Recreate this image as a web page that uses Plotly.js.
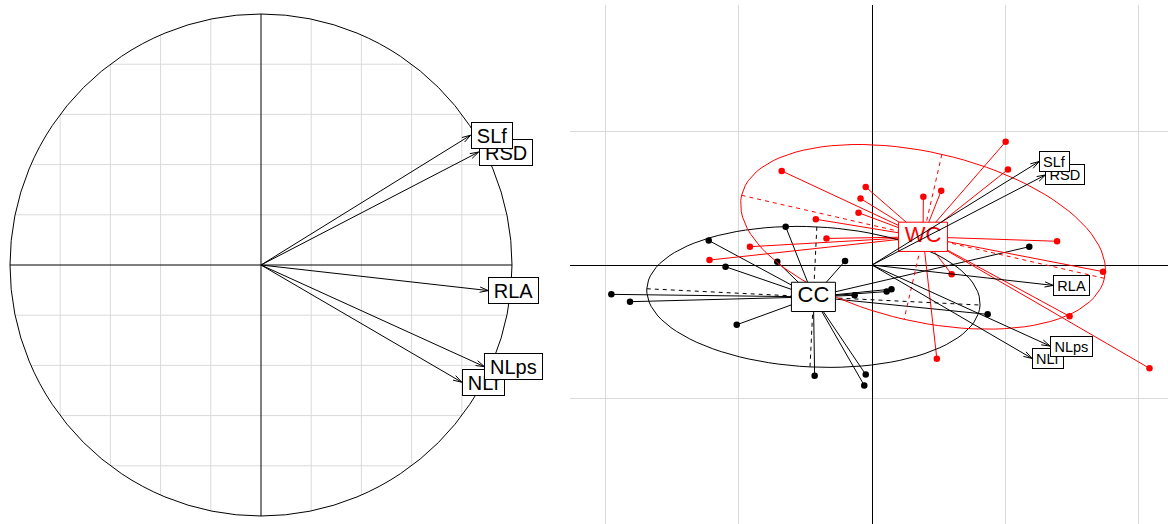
<!DOCTYPE html>
<html><head><meta charset="utf-8">
<script src="https://cdn.plot.ly/plotly-3.0.1.min.js"></script>
<style>html,body{margin:0;padding:0;background:#fff;} #chart{width:1168px;height:524px;}</style>
</head><body><div id="chart"></div>
<script>
// ---------- data ----------
const varNames = ['NLf', 'NLps', 'RLA', 'RSD', 'SLf'];
const corX = [0.800, 0.890, 0.906, 0.867, 0.835];
const corY = [-0.467, -0.405, -0.102, 0.450, 0.517];
const arrowScale = 1.5;

const classNames = ['CC', 'WC'];
const classColors = ['black', 'red'];

const ccX = [-0.647, -1.224, -0.710, -0.202, -1.098, -1.954, -1.814, -1.014, -0.130, 0.110, 0.146, -0.430, -0.047, -0.058, 1.179, 0.867];
const ccY = [0.287, 0.184, 0.024, 0.030, -0.013, -0.220, -0.275, -0.448, -0.227, -0.199, -0.181, -0.830, -0.821, -0.903, 0.137, -0.370];

const wcX = [1.002, -0.677, -0.047, -0.086, -0.101, -0.421, 0.385, 0.519, 1.019, -0.341, -0.915, -1.218, 1.387, 1.732, 0.597, 1.481, 0.486, 2.080];
const wcY = [0.924, 0.705, 0.585, 0.498, 0.392, 0.343, 0.512, 0.557, 0.716, 0.199, 0.137, 0.037, 0.178, -0.050, -0.070, -0.385, -0.702, -0.774];

const gridVals = [-0.8, -0.6, -0.4, -0.2, 0.2, 0.4, 0.6, 0.8];

// ---------- layout geometry ----------
const W = 1168, H = 524;
const L = {cx: 261, cy: 265, s: 251, right: 522};          // left panel (px)
const R = {left: 570, top: 5, ox: 872, oy: 265, s: 133.4}; // right panel (px)
const FONT = '"Liberation Sans", Arial, Helvetica, sans-serif';
const GRID = '#dadada';

const ctx = document.createElement('canvas').getContext('2d');
function tw(s, fs) { ctx.font = fs + 'px "Liberation Sans"'; return ctx.measureText(s).width; }

function arrowHead(tx, ty, sPx, hPx, angDeg) {
  const len = Math.hypot(tx, ty), ux = tx / len, uy = ty / len;
  const h = hPx / sPx, a = angDeg * Math.PI / 180;
  const r1x = ux * Math.cos(a) - uy * Math.sin(a), r1y = ux * Math.sin(a) + uy * Math.cos(a);
  const r2x = ux * Math.cos(-a) - uy * Math.sin(-a), r2y = ux * Math.sin(-a) + uy * Math.cos(-a);
  return {x: [tx - h * r1x, tx, tx - h * r2x], y: [ty - h * r1y, ty, ty - h * r2y]};
}

function mean(a) { return a.reduce((s, v) => s + v, 0) / a.length; }

function ellipse(xs, ys, coeff) {
  const mx = mean(xs), my = mean(ys), n = xs.length;
  let vx = 0, vy = 0, cxy = 0;
  for (let i = 0; i < n; i++) { vx += (xs[i] - mx) ** 2 / n; vy += (ys[i] - my) ** 2 / n; cxy += (xs[i] - mx) * (ys[i] - my) / n; }
  const delta = Math.sqrt((vx - vy) ** 2 + 4 * cxy * cxy);
  let l1 = (vx + vy + delta) / 2, l2 = vx + vy - l1;
  l1 = Math.sqrt(Math.max(l1, 0)); l2 = Math.sqrt(Math.max(l2, 0));
  let a0 = 1, b0 = (l1 * l1 - vx) / cxy;
  const nm = Math.hypot(a0, b0); a0 /= nm; b0 /= nm;
  const c11 = coeff * a0 * l1, c12 = -coeff * b0 * l2, c21 = coeff * b0 * l1, c22 = coeff * a0 * l2;
  const ex = [], ey = [];
  const lig = 100;
  for (let i = 0; i <= lig; i++) {
    const t = 2 * Math.PI * i / lig;
    ex.push(mx + c11 * Math.cos(t) + c12 * Math.sin(t));
    ey.push(my + c21 * Math.cos(t) + c22 * Math.sin(t));
  }
  const axX = [mx - c11, mx + c11, null, mx + c12, mx - c12];
  const axY = [my - c21, my + c21, null, my + c22, my - c22];
  return {ex, ey, axX, axY, mx, my};
}

const traces = [];
const shapes = [];
const annotations = [];

// ---------- left panel: correlation circle ----------
gridVals.forEach(v => {
  const h = Math.sqrt(1 - v * v);
  shapes.push({type: 'line', xref: 'x', yref: 'y', x0: v, x1: v, y0: -h, y1: h, line: {color: GRID, width: 1}, layer: 'below'});
  shapes.push({type: 'line', xref: 'x', yref: 'y', y0: v, y1: v, x0: -h, x1: h, line: {color: GRID, width: 1}, layer: 'below'});
});
shapes.push({type: 'line', xref: 'x', yref: 'y', x0: -1, x1: 1, y0: 0, y1: 0, line: {color: 'black', width: 1}, layer: 'below'});
shapes.push({type: 'line', xref: 'x', yref: 'y', x0: 0, x1: 0, y0: -1, y1: 1, line: {color: 'black', width: 1}, layer: 'below'});
shapes.push({type: 'circle', xref: 'x', yref: 'y', x0: -1, x1: 1, y0: -1, y1: 1, line: {color: 'black', width: 1}, layer: 'below'});

function addArrows(xa, ya, scale, sPx, fs, hf) {
  const lx = [], ly = [];
  varNames.forEach((nmv, i) => {
    const tx = corX[i] * scale, ty = corY[i] * scale;
    lx.push(0, tx, null); ly.push(0, ty, null);
    const hd = arrowHead(tx, ty, sPx, 9, 17);
    lx.push(...hd.x, null); ly.push(...hd.y, null);
    annotations.push({
      x: tx, y: ty, xref: xa, yref: ya, text: nmv, showarrow: false, xanchor: 'left', yanchor: 'middle',
      font: {family: FONT, size: fs, color: 'black'}, bgcolor: 'white', bordercolor: 'black', borderwidth: 1, borderpad: 1,
      width: tw(nmv, fs) + 0.556 * fs - 3, height: hf * fs - 3, align: 'center', valign: 'middle'
    });
  });
  traces.push({x: lx, y: ly, xaxis: xa, yaxis: ya, mode: 'lines', line: {color: 'black', width: 1}, hoverinfo: 'skip', showlegend: false});
}
addArrows('x', 'y', 1, L.s, 20, 1.3);

// ---------- right panel: class scatter ----------
const classX = [ccX, wcX], classY = [ccY, wcY];
// points
classNames.forEach((c, k) => {
  traces.push({x: classX[k], y: classY[k], xaxis: 'x2', yaxis: 'y2', mode: 'markers',
    marker: {color: classColors[k], size: 6.5, line: {width: 0}}, hoverinfo: 'skip', showlegend: false});
});
// stars
const ells = classNames.map((c, k) => ellipse(classX[k], classY[k], 1.5));
classNames.forEach((c, k) => {
  const sx = [], sy = [];
  const mx = ells[k].mx, my = ells[k].my;
  classX[k].forEach((v, i) => { sx.push(mx, v, null); sy.push(my, classY[k][i], null); });
  traces.push({x: sx, y: sy, xaxis: 'x2', yaxis: 'y2', mode: 'lines', line: {color: classColors[k], width: 1}, hoverinfo: 'skip', showlegend: false});
});
// ellipses
classNames.forEach((c, k) => {
  const e = ells[k];
  traces.push({x: e.ex, y: e.ey, xaxis: 'x2', yaxis: 'y2', mode: 'lines', line: {color: classColors[k], width: 1}, hoverinfo: 'skip', showlegend: false});
  traces.push({x: e.axX, y: e.axY, xaxis: 'x2', yaxis: 'y2', mode: 'lines', line: {color: classColors[k], width: 1, dash: '4px,4px'}, hoverinfo: 'skip', showlegend: false});
});
// class labels (box + text)
classNames.forEach((c, k) => {
  const fs = 22, e = ells[k];
  const w = (tw(c, fs) + 0.556 * fs) / R.s, h = (1.33 * fs) / R.s;
  traces.push({x: [e.mx - w / 2, e.mx + w / 2, e.mx + w / 2, e.mx - w / 2, e.mx - w / 2],
    y: [e.my - h / 2, e.my - h / 2, e.my + h / 2, e.my + h / 2, e.my - h / 2],
    xaxis: 'x2', yaxis: 'y2', mode: 'lines', fill: 'toself', fillcolor: 'white',
    line: {color: classColors[k], width: 1}, hoverinfo: 'skip', showlegend: false});
  traces.push({x: [e.mx], y: [e.my], xaxis: 'x2', yaxis: 'y2', mode: 'text', text: [c], textposition: 'middle center',
    textfont: {family: FONT, size: fs, color: classColors[k]}, hoverinfo: 'skip', showlegend: false});
});
// variable arrows
addArrows('x2', 'y2', arrowScale, R.s, 14.5, 1.4);

const layout = {
  width: W, height: H, margin: {l: 0, r: 0, t: 0, b: 0, pad: 0},
  paper_bgcolor: 'white', plot_bgcolor: 'rgba(0,0,0,0)', showlegend: false, hovermode: false,
  xaxis: {domain: [0, L.right / W], range: [-L.cx / L.s, (L.right - L.cx) / L.s], visible: false, fixedrange: true},
  yaxis: {domain: [0, 1], range: [-(H - L.cy) / L.s, L.cy / L.s], visible: false, fixedrange: true},
  xaxis2: {domain: [R.left / W, 1], range: [-(R.ox - R.left) / R.s, (W - R.ox) / R.s], anchor: 'y2',
    showgrid: true, gridcolor: GRID, gridwidth: 1, tick0: 0, dtick: 1, zeroline: true, zerolinecolor: 'black', zerolinewidth: 1,
    showticklabels: false, ticks: '', showline: false, fixedrange: true},
  yaxis2: {domain: [0, (H - R.top) / H], range: [-(H - R.oy) / R.s, (R.oy - R.top) / R.s], anchor: 'x2',
    showgrid: true, gridcolor: GRID, gridwidth: 1, tick0: 0, dtick: 1, zeroline: true, zerolinecolor: 'black', zerolinewidth: 1,
    showticklabels: false, ticks: '', showline: false, fixedrange: true},
  shapes, annotations,
  font: {family: FONT}
};

Plotly.newPlot('chart', traces, layout, {staticPlot: true, displayModeBar: false});
</script>
</body></html>
